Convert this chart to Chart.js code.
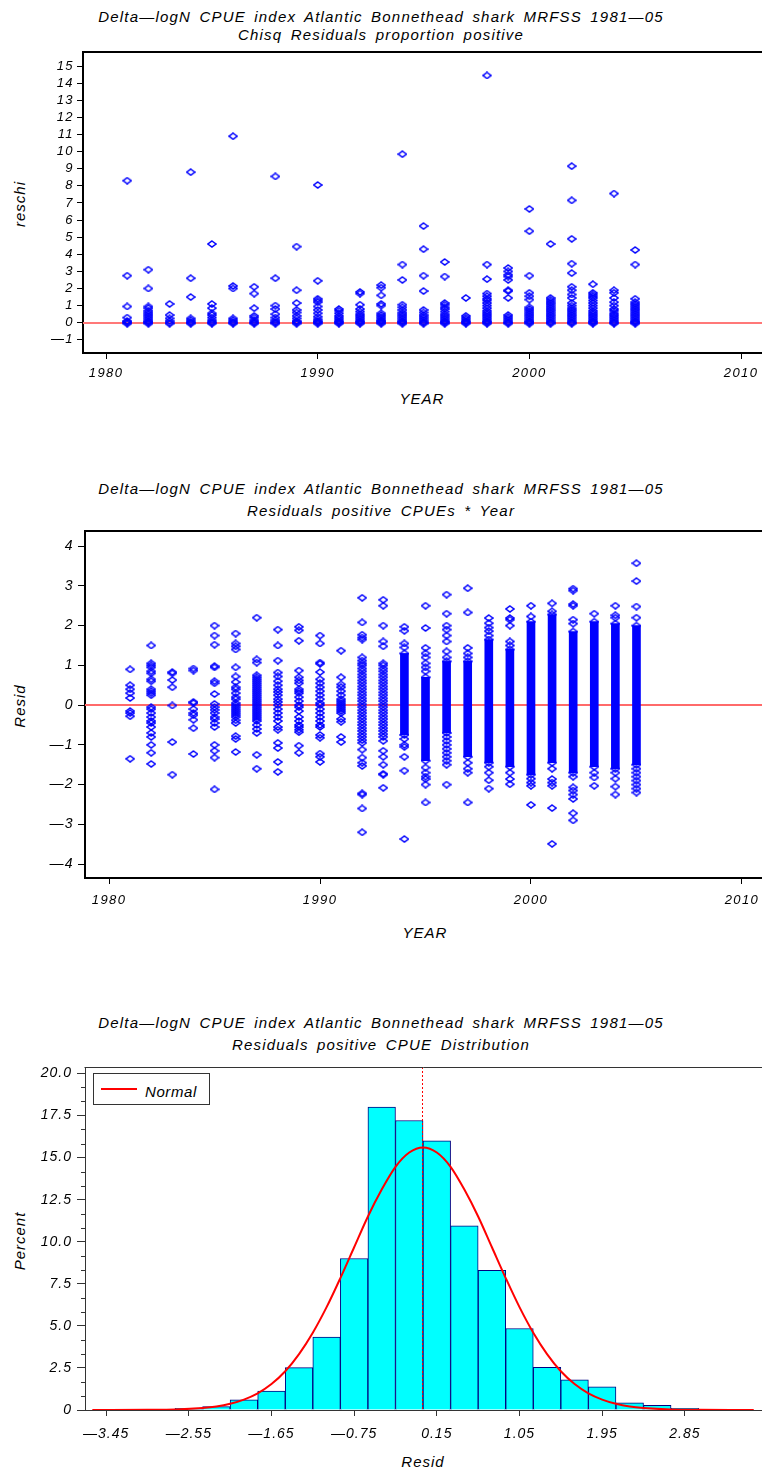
<!DOCTYPE html>
<html>
<head>
<meta charset="utf-8">
<title>Delta-logN CPUE index Atlantic Bonnethead shark</title>
<script src="https://cdn.jsdelivr.net/npm/chart.js@4.4.1/dist/chart.umd.min.js"></script>
<style>
  html, body { margin: 0; padding: 0; background: #fff; }
  body { position: relative; width: 762px; height: 1471px; overflow: hidden;
         font-family: "Liberation Sans", Arial, sans-serif; font-style: italic; color: #000; }
  canvas { position: absolute; left: 0; }
  .title { position: absolute; left: 0; width: 762px; text-align: center; font-size: 15px;
           line-height: 15px; letter-spacing: 1.2px; word-spacing: 3px; white-space: nowrap; }
  .xlab { position: absolute; font-size: 15px; line-height: 15px; letter-spacing: 1px;
          transform: translateX(-50%); white-space: nowrap; }
  .ylab { position: absolute; font-size: 15px; line-height: 15px; letter-spacing: 1px;
          transform: translate(-50%, -50%) rotate(-90deg); white-space: nowrap; }
  #legend { position: absolute; left: 93px; top: 1073px; width: 117px; height: 32px;
            box-sizing: border-box; border: 1px solid #333; background: #fff; z-index: 2; }
  #legend .swatch { position: absolute; left: 7px; top: 14px; width: 36px; height: 2px; background: #f00; }
  #legend .txt { position: absolute; left: 51px; top: 10px; font-size: 15px; line-height: 15px; letter-spacing: 0.6px; }
</style>
</head>
<body>

<div class="title" style="top:8.8px">Delta—logN CPUE index Atlantic Bonnethead shark MRFSS 1981—05</div>
<div class="title" style="top:26.6px">Chisq Residuals proportion positive</div>
<div class="ylab" style="left:19px; top:204px">reschi</div>
<div class="xlab" style="left:422px; top:391px">YEAR</div>
<canvas id="chi" width="762" height="370" style="top:40px"></canvas>

<div class="title" style="top:480.6px">Delta—logN CPUE index Atlantic Bonnethead shark MRFSS 1981—05</div>
<div class="title" style="top:503px">Residuals positive CPUEs * Year</div>
<div class="ylab" style="left:19px; top:706px">Resid</div>
<div class="xlab" style="left:425px; top:924.6px">YEAR</div>
<canvas id="res" width="762" height="420" style="top:520px"></canvas>

<div class="title" style="top:1014.6px">Delta—logN CPUE index Atlantic Bonnethead shark MRFSS 1981—05</div>
<div class="title" style="top:1036.6px">Residuals positive CPUE Distribution</div>
<div class="ylab" style="left:19px; top:1241px">Percent</div>
<div class="xlab" style="left:423px; top:1453.8px">Resid</div>
<canvas id="hist" width="762" height="416" style="top:1055px"></canvas>
<div id="legend"><div class="swatch"></div><div class="txt">Normal</div></div>

<script>
// years with observations
const years = [1981, 1982, 1983, 1984, 1985, 1986, 1987, 1988, 1989, 1990, 1991, 1992, 1993,
               1994, 1995, 1996, 1997, 1998, 1999, 2000, 2001, 2002, 2003, 2004, 2005];
const yearTicks = [1980, 1990, 2000, 2010];

// panel 1: chi-square residuals, proportion positive (one row per year)
const reschiTicks = [-1, 0, 1, 2, 3, 4, 5, 6, 7, 8, 9, 10, 11, 12, 13, 14, 15];
const reschi = [
  [8.3, 2.75, 0.95, 0.3, 0.1, 0.05, 0, -0.05],
  [3.1, 2.0, 0.95, 0.85, 0.7, 0.6, 0.5, 0.4, 0.3, 0.2, 0.1, 0.05, 0, -0.05],
  [1.1, 0.45, 0.25, 0.1, 0, -0.05],
  [8.8, 2.6, 1.5, 0.25, 0.15, 0.05, 0, -0.05],
  [4.6, 1.1, 0.85, 0.55, 0.45, 0.3, 0.15, 0.05, 0, -0.05],
  [10.9, 2.15, 2.0, 0.25, 0.15, 0.05, 0, -0.05],
  [2.1, 1.7, 0.85, 0.4, 0.3, 0.15, 0.05, 0, -0.05],
  [8.55, 2.6, 1.0, 0.8, 0.5, 0.3, 0.15, 0.05, 0, -0.05],
  [4.45, 1.9, 1.15, 0.75, 0.6, 0.4, 0.25, 0.1, 0.05, 0, -0.05],
  [8.05, 2.45, 1.4, 1.3, 1.2, 0.95, 0.75, 0.55, 0.35, 0.2, 0.1, 0.05, 0, -0.05],
  [0.8, 0.7, 0.55, 0.4, 0.3, 0.2, 0.1, 0.05, 0, -0.05],
  [1.8, 1.7, 1.05, 0.8, 0.65, 0.5, 0.4, 0.3, 0.2, 0.1, 0.05, 0, -0.05],
  [2.2, 2.05, 1.6, 1.1, 1.0, 0.55, 0.45, 0.35, 0.25, 0.15, 0.1, 0.05, 0, -0.05],
  [9.85, 3.4, 2.5, 1.05, 0.9, 0.75, 0.6, 0.5, 0.4, 0.3, 0.2, 0.1, 0.05, 0, -0.05],
  [5.65, 4.3, 2.75, 1.85, 0.75, 0.6, 0.45, 0.35, 0.25, 0.15, 0.05, 0, -0.05],
  [3.55, 2.7, 1.15, 1.05, 0.9, 0.8, 0.65, 0.5, 0.4, 0.3, 0.2, 0.1, 0.05, 0, -0.05],
  [1.45, 0.4, 0.3, 0.2, 0.1, 0.05, 0, -0.05],
  [14.45, 3.4, 2.55, 1.7, 1.55, 1.4, 1.3, 1.15, 1.0, 0.85, 0.7, 0.6, 0.5, 0.4, 0.3, 0.2, 0.1, 0.05, 0, -0.05],
  [3.2, 3.0, 2.8, 2.7, 2.5, 1.9, 1.85, 1.45, 0.45, 0.35, 0.25, 0.15, 0.05, 0, -0.05],
  [6.65, 5.35, 2.75, 1.75, 1.55, 1.35, 0.9, 0.8, 0.7, 0.6, 0.5, 0.4, 0.3, 0.2, 0.1, 0.05, 0, -0.05],
  [4.6, 1.45, 1.35, 1.25, 1.15, 1.05, 0.95, 0.85, 0.75, 0.65, 0.55, 0.45, 0.35, 0.25, 0.15, 0.05, 0, -0.05],
  [9.15, 7.15, 4.9, 3.45, 2.9, 2.1, 1.9, 1.65, 1.45, 1.15, 1.0, 0.85, 0.75, 0.65, 0.55, 0.45, 0.35, 0.25, 0.15, 0.05, 0, -0.05],
  [2.25, 1.75, 1.65, 1.55, 1.45, 1.3, 1.15, 1.0, 0.85, 0.7, 0.6, 0.5, 0.4, 0.3, 0.2, 0.1, 0.05, 0, -0.05],
  [7.55, 1.9, 1.75, 1.45, 1.2, 1.0, 0.8, 0.7, 0.55, 0.45, 0.35, 0.25, 0.15, 0.05, 0, -0.05],
  [4.25, 3.4, 1.4, 1.2, 1.1, 1.0, 0.9, 0.8, 0.7, 0.6, 0.5, 0.4, 0.3, 0.2, 0.1, 0.05, 0, -0.05]
];

// panel 2: residuals of positive CPUEs (separate markers per year)
const residTicks = [-4, -3, -2, -1, 0, 1, 2, 3, 4];
const resid = [
  [0.9, 0.5, 0.4, 0.3, 0.18, -0.15, -0.2, -0.28, -1.35],
  [1.5, 1.05, 1.0, 0.95, 0.85, 0.8, 0.65, 0.6, 0.4, 0.35, 0.3, 0.25, -0.05, -0.1, -0.2, -0.3, -0.4, -0.45, -0.55, -0.7, -0.8, -1.0, -1.2, -1.48],
  [0.83, 0.8, 0.63, 0.45, -0.01, -0.93, -1.75],
  [0.92, 0.87, 0.08, 0.05, -0.1, -0.2, -0.25, -0.37, -0.58, -1.23],
  [2.0, 1.75, 1.52, 0.98, 0.95, 0.6, 0.55, 0.28, 0.03, -0.05, -0.12, -0.2, -0.3, -0.35, -0.45, -0.55, -1.0, -1.15, -1.32, -2.12],
  [1.8, 1.55, 1.48, 1.4, 0.95, 0.72, 0.58, 0.45, 0.4, 0.3, 0.2, 0.15, 0.05, 0, -0.05, -0.1, -0.15, -0.2, -0.25, -0.3, -0.38, -0.45, -0.78, -0.85, -1.18],
  [2.2, 1.15, 1.07, 0.75, 0.7, 0.65, 0.6, 0.55, 0.5, 0.45, 0.4, 0.35, 0.3, 0.25, 0.2, 0.15, 0.1, 0.05, 0, -0.05, -0.1, -0.15, -0.2, -0.25, -0.3, -0.35, -0.4, -0.5, -0.6, -0.7, -1.25, -1.6],
  [1.9, 1.5, 1.12, 0.82, 0.72, 0.6, 0.5, 0.4, 0.33, 0.25, 0.15, 0.08, 0, -0.1, -0.2, -0.3, -0.4, -0.55, -0.62, -0.95, -1.08, -1.43, -1.68],
  [1.97, 1.88, 1.62, 0.87, 0.7, 0.62, 0.55, 0.4, 0.35, 0.3, 0.2, 0.1, 0, -0.05, -0.15, -0.3, -0.4, -0.5, -0.55, -0.62, -0.68, -1.02, -1.2],
  [1.75, 1.55, 1.07, 1.04, 0.83, 0.65, 0.55, 0.45, 0.35, 0.25, 0.15, 0.05, 0, -0.1, -0.2, -0.3, -0.4, -0.5, -0.55, -0.75, -0.82, -1.22, -1.3, -1.43],
  [1.37, 0.7, 0.52, 0.45, 0.35, 0.25, 0.15, 0.1, 0.05, 0, -0.05, -0.1, -0.15, -0.2, -0.35, -0.42, -0.8, -0.93],
  [2.7, 2.08, 1.77, 1.7, 1.65, 1.2, 1.12, 1.05, 1.0, 0.92, 0.85, 0.77, 0.7, 0.62, 0.55, 0.47, 0.4, 0.32, 0.25, 0.17,
   0.1, 0.02, -0.05, -0.13, -0.2, -0.28, -0.35, -0.43, -0.5, -0.58, -0.65, -0.73, -0.8, -0.88, -0.95,
   -1.12, -1.32, -1.45, -1.53, -2.22, -2.25, -2.6, -3.2],
  [2.65, 2.5, 2.0, 1.6, 1.48, 1.05, 1.0, 0.92, 0.85, 0.77, 0.7, 0.62, 0.55, 0.47, 0.4, 0.32, 0.25, 0.17, 0.1, 0.02,
   -0.05, -0.13, -0.2, -0.28, -0.35, -0.43, -0.5, -0.58, -0.65, -0.73, -0.8, -0.9,
   -1.15, -1.3, -1.5, -1.73, -1.75, -2.08],
  [1.97, 1.87, 1.55, 1.45, 1.3, -0.75, -0.85, -1.0, -1.05, -1.3, -1.65, -3.37],
  [2.5, 1.94, 1.44, 1.3, 1.2, 1.05, 0.95, 0.85, 0.7, -1.4, -1.57, -1.7, -1.8, -1.86, -2.0, -2.45],
  [2.78, 2.3, 2.0, 1.9, 1.75, 1.6, 1.35, 1.2, 1.1, -0.7, -0.8, -0.9, -1.0, -1.1, -1.2, -1.3, -1.4, -1.5, -2.0],
  [2.94, 2.33, 1.44, 1.3, 1.2, 1.1, -1.3, -1.45, -1.6, -1.7, -2.45],
  [2.19, 2.06, 1.95, 1.86, 1.75, 1.65, -1.45, -1.55, -1.7, -1.89, -2.1],
  [2.42, 2.19, 2.15, 2.0, 1.6, 1.5, 1.4, -1.55, -1.7, -1.86, -1.99],
  [2.5, 2.23, 2.1, -1.75, -1.85, -1.95, -2.03, -2.51],
  [2.56, 2.36, 2.28, -1.45, -1.6, -1.86, -1.95, -2.03, -2.59, -3.49],
  [2.93, 2.88, 2.54, 2.5, 2.15, 2.05, 1.85, -1.7, -1.8, -2.07, -2.15, -2.25, -2.36, -2.72, -2.9],
  [2.3, 2.1, -1.55, -1.7, -1.82, -2.03],
  [2.5, 2.26, 2.2, 2.05, -1.6, -1.7, -1.85, -2.05, -2.25],
  [3.57, 3.12, 2.48, 2.2, 2.0, -1.5, -1.6, -1.7, -1.8, -1.9, -2.0, -2.1, -2.2]
];
// range where the markers of a year overlap into a solid column (null = none)
const residDenseLo = [null, null, null, null, null, null, null, null, null, null, null, null, null,
                      -0.75, -1.4, -0.7, -1.3, -1.45, -1.55, -1.75, -1.45, -1.7, -1.55, -1.6, -1.5];
const residDenseHi = [null, null, null, null, null, null, null, null, null, null, null, null, null,
                      1.3, 0.7, 1.1, 1.1, 1.65, 1.4, 2.1, 2.28, 1.85, 2.1, 2.05, 2.0];

// panel 3: histogram of residuals (bin midpoints, percent) and fitted normal curve
const binMid = [-3.45, -3.15, -2.85, -2.55, -2.25, -1.95, -1.65, -1.35, -1.05, -0.75, -0.45, -0.15,
                0.15, 0.45, 0.75, 1.05, 1.35, 1.65, 1.95, 2.25, 2.55, 2.85, 3.15, 3.45];
const binPct = [0.03, 0.03, 0.03, 0.1, 0.2, 0.6, 1.13, 2.52, 4.33, 9.0, 18.0, 17.2,
                16.0, 10.95, 8.3, 4.84, 2.54, 1.8, 1.37, 0.43, 0.28, 0.1, 0.03, 0.03];
const binTicks = [-3.45, -2.55, -1.65, -0.75, 0.15, 1.05, 1.95, 2.85];
const pctTicks = [0, 2.5, 5, 7.5, 10, 12.5, 15, 17.5, 20];
const normX = [-3.6, -3.0, -2.7, -2.4, -2.25, -2.1, -1.95, -1.8, -1.65, -1.5, -1.35, -1.2, -1.05, -0.9, -0.75,
               -0.6, -0.45, -0.3, -0.15, 0, 0.15, 0.3, 0.45, 0.6, 0.75, 0.9, 1.05, 1.2, 1.35, 1.5, 1.65,
               1.8, 1.95, 2.1, 2.25, 2.4, 2.7, 3.0, 3.6];
const normY = [0, 0.01, 0.03, 0.12, 0.21, 0.37, 0.62, 0.99, 1.54, 2.3, 3.32, 4.59, 6.11, 7.84, 9.67,
               11.5, 13.1, 14.45, 15.3, 15.6, 15.3, 14.45, 13.1, 11.5, 9.67, 7.84, 6.11, 4.59, 3.32, 2.3, 1.54,
               0.99, 0.62, 0.37, 0.21, 0.12, 0.03, 0.01, 0];
const residMean = -0.01;

// ---------------------------------------------------------------
const FONT = 'Liberation Sans';
const BLUE = '#0000ff';
const dash = '\u2014';
const signed = (v, d) => (v < 0 ? dash : '') + (d == null ? String(Math.abs(v)) : Math.abs(v).toFixed(d));

// open diamond marker, a bit wider than tall
function diamond() {
  const c = document.createElement('canvas');
  c.width = 10; c.height = 8;
  const g = c.getContext('2d');
  g.strokeStyle = BLUE;
  g.lineWidth = 1.5;
  g.beginPath();
  g.moveTo(5, 1); g.lineTo(9, 4); g.lineTo(5, 7); g.lineTo(1, 4);
  g.closePath();
  g.stroke();
  return c;
}
const marker = diamond();

const spacing = {
  id: 'spacing',
  beforeDraw(chart, args, o) { chart.ctx.letterSpacing = o.px + 'px'; }
};

// frame top line, zero line, mean line, minor ticks
const frame = {
  id: 'frame',
  beforeDatasetsDraw(chart, args, o) {
    const {ctx, chartArea: a, scales} = chart;
    if (!o.zeroColor) return;
    const y = Math.round(scales.y.getPixelForValue(0));
    ctx.save();
    ctx.strokeStyle = o.zeroColor;
    ctx.lineWidth = 2;
    ctx.beginPath(); ctx.moveTo(a.left, y); ctx.lineTo(a.right, y); ctx.stroke();
    ctx.restore();
  },
  afterDatasetsDraw(chart, args, o) {
    const {ctx, chartArea: a, scales} = chart;
    if (!o.mean) return;
    const x = Math.round(scales.x.getPixelForValue(residMean)) + 0.5;
    ctx.save();
    ctx.strokeStyle = '#ff0000';
    ctx.lineWidth = 1;
    ctx.setLineDash([2, 2]);
    ctx.beginPath(); ctx.moveTo(x, a.top); ctx.lineTo(x, a.bottom); ctx.stroke();
    ctx.restore();
  },
  afterDraw(chart, args, o) {
    const {ctx, chartArea: a, scales} = chart;
    ctx.save();
    ctx.strokeStyle = o.color;
    ctx.lineWidth = o.width;
    const t = a.top + (o.width % 2 ? 0.5 : 0);
    ctx.beginPath(); ctx.moveTo(a.left - o.width / 2, t); ctx.lineTo(a.right, t); ctx.stroke();
    if (o.minor) {
      const ys = scales.y;
      ctx.lineWidth = 1;
      ctx.beginPath();
      for (let i = 0; i < pctTicks.length - 1; i++) {
        const step = (pctTicks[i + 1] - pctTicks[i]) / 3;
        for (let k = 1; k < 3; k++) {
          const y = Math.round(ys.getPixelForValue(pctTicks[i] + k * step)) + 0.5;
          ctx.moveTo(a.left - o.minor, y); ctx.lineTo(a.left, y);
        }
      }
      ctx.stroke();
    }
    ctx.restore();
  }
};

function axis(opts) {
  return {
    type: 'linear',
    min: opts.min, max: opts.max,
    offset: false,
    afterFit: s => {
      opts.fit(s);
      s.paddingLeft = 0; s.paddingRight = 0; s.paddingTop = 0; s.paddingBottom = 0;
    },
    afterBuildTicks: s => { s.ticks = opts.ticks.map(v => ({value: v})); },
    grid: { display: true, drawOnChartArea: false, drawTicks: true, offset: false,
            tickLength: opts.tickLength, tickColor: opts.color, tickWidth: 1 },
    border: { display: true, color: opts.color, width: opts.lineWidth },
    ticks: { autoSkip: false, maxRotation: 0, padding: opts.padding, color: '#000',
             font: { family: FONT, style: 'italic', size: opts.size },
             callback: opts.format }
  };
}

const common = {
  responsive: false,
  animation: false,
  events: [],
  plugins: { legend: { display: false }, tooltip: { enabled: false } }
};

// ---- panel 1
new Chart(document.getElementById('chi'), {
  type: 'scatter',
  data: {
    datasets: [{
      data: reschi.flatMap((vals, i) => vals.map(v => ({x: years[i], y: v}))),
      pointStyle: marker, pointRadius: 4
    }]
  },
  options: Object.assign({}, common, {
    layout: { autoPadding: false, padding: { top: 12, left: 0, right: 0, bottom: 0 } },
    scales: {
      x: axis({ min: 1978.91, max: 2010.99, ticks: yearTicks, fit: s => { s.height = 57; },
                tickLength: 6, padding: 7, size: 13, color: '#000', lineWidth: 2, format: v => String(v) }),
      y: axis({ min: -1.77, max: 15.82, ticks: reschiTicks, fit: s => { s.width = 83; },
                tickLength: 6, padding: 3, size: 13, color: '#000', lineWidth: 2, format: v => signed(v) })
    },
    plugins: Object.assign({}, common.plugins, {
      spacing: { px: 1.4 },
      frame: { color: '#000', width: 2, zeroColor: '#ff7878' }
    })
  }),
  plugins: [spacing, frame]
});

// ---- panel 2
const denseIdx = years.map((y, i) => i).filter(i => residDenseLo[i] != null);
new Chart(document.getElementById('res'), {
  type: 'scatter',
  data: {
    datasets: [{
      data: resid.flatMap((vals, i) => vals.map(v => ({x: years[i], y: v}))),
      pointStyle: marker, pointRadius: 4
    }, {
      type: 'bar',
      data: denseIdx.map(i => ({x: years[i], y: [residDenseLo[i], residDenseHi[i]]})),
      backgroundColor: BLUE, borderWidth: 0, barThickness: 8, grouped: false
    }]
  },
  options: Object.assign({}, common, {
    layout: { autoPadding: false, padding: { top: 11, left: 0, right: 0, bottom: 0 } },
    scales: {
      x: axis({ min: 1978.86, max: 2010.95, ticks: yearTicks, fit: s => { s.height = 62; },
                tickLength: 6, padding: 9, size: 13, color: '#000', lineWidth: 2, format: v => String(v) }),
      y: axis({ min: -4.35, max: 4.38, ticks: residTicks, fit: s => { s.width = 85; },
                tickLength: 7, padding: 4, size: 14, color: '#000', lineWidth: 2, format: v => signed(v) })
    },
    plugins: Object.assign({}, common.plugins, {
      spacing: { px: 1.4 },
      frame: { color: '#000', width: 2, zeroColor: '#ff6a6a' }
    })
  }),
  plugins: [spacing, frame]
});

// ---- panel 3
new Chart(document.getElementById('hist'), {
  type: 'bar',
  data: {
    datasets: [{
      type: 'line',
      data: normX.map((x, i) => ({x: x, y: normY[i]})),
      borderColor: '#ff0000', borderWidth: 2, pointRadius: 0,
      cubicInterpolationMode: 'monotone', order: 0
    }, {
      type: 'bar',
      data: binMid.map((x, i) => ({x: x, y: binPct[i]})),
      backgroundColor: '#00ffff', borderColor: '#000080', borderWidth: 1,
      barPercentage: 1, categoryPercentage: 1, order: 1
    }]
  },
  options: Object.assign({}, common, {
    layout: { autoPadding: false, padding: { top: 12, left: 0, right: 0, bottom: 0 } },
    scales: {
      x: axis({ min: -3.68, max: 3.69, ticks: binTicks, fit: s => { s.height = 61; },
                tickLength: 6, padding: 10, size: 14, color: '#333', lineWidth: 1, format: v => signed(v, 2) }),
      y: axis({ min: 0, max: 20.38, ticks: pctTicks, fit: s => { s.width = 85; },
                tickLength: 8, padding: 5, size: 14, color: '#333', lineWidth: 1,
                format: v => v === 0 ? '0' : v.toFixed(1) })
    },
    plugins: Object.assign({}, common.plugins, {
      spacing: { px: 1 },
      frame: { color: '#333', width: 1, mean: true, minor: 4 }
    })
  }),
  plugins: [spacing, frame]
});
</script>
</body>
</html>
